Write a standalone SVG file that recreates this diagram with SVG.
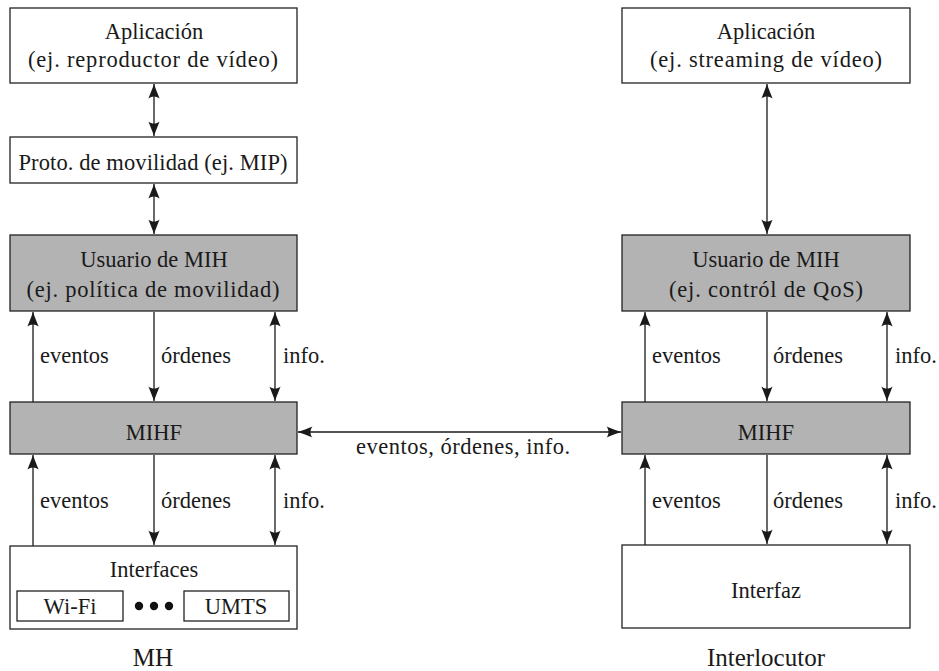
<svg xmlns="http://www.w3.org/2000/svg" width="939" height="671" viewBox="0 0 939 671">
<style>
.t{font-family:"Liberation Serif","Times New Roman",serif;font-size:22.5px;fill:#1a1a1a}
.c{text-anchor:middle}
.big{font-size:25px}
.box{fill:#fff;stroke:#222;stroke-width:1.3}
.gbox{fill:#b3b3b3;stroke:#222;stroke-width:1.3}
.ln{fill:none;stroke:#1a1a1a;stroke-width:1.3}
.dot{fill:#111}
</style>
<defs>
<path id="head" d="M0,0 C-4.5,-1.5 -9.5,-3.6 -14.5,-5.6 C-11.8,-2.2 -11.8,2.2 -14.5,5.6 C-9.5,3.6 -4.5,1.5 0,0 Z" fill="#1a1a1a"/>
</defs>

<g id="connectors">
<path class="ln" d="M154,84 V136"/>
<use href="#head" transform="translate(154,84) rotate(-90)"/>
<use href="#head" transform="translate(154,136) rotate(90)"/>
<path class="ln" d="M154,184 V234"/>
<use href="#head" transform="translate(154,184) rotate(-90)"/>
<use href="#head" transform="translate(154,234) rotate(90)"/>

<path class="ln" d="M33,402 V312"/>
<use href="#head" transform="translate(33,312) rotate(-90)"/>
<path class="ln" d="M154,312 V401"/>
<use href="#head" transform="translate(154,401) rotate(90)"/>
<path class="ln" d="M275,312 V401"/>
<use href="#head" transform="translate(275,312) rotate(-90)"/>
<use href="#head" transform="translate(275,401) rotate(90)"/>

<path class="ln" d="M33,546 V455"/>
<use href="#head" transform="translate(33,455) rotate(-90)"/>
<path class="ln" d="M154,455 V545"/>
<use href="#head" transform="translate(154,545) rotate(90)"/>
<path class="ln" d="M275,455 V545"/>
<use href="#head" transform="translate(275,455) rotate(-90)"/>
<use href="#head" transform="translate(275,545) rotate(90)"/>

<path class="ln" d="M767,84 V234"/>
<use href="#head" transform="translate(767,84) rotate(-90)"/>
<use href="#head" transform="translate(767,234) rotate(90)"/>

<path class="ln" d="M645,402 V312"/>
<use href="#head" transform="translate(645,312) rotate(-90)"/>
<path class="ln" d="M767,312 V401"/>
<use href="#head" transform="translate(767,401) rotate(90)"/>
<path class="ln" d="M887,312 V401"/>
<use href="#head" transform="translate(887,312) rotate(-90)"/>
<use href="#head" transform="translate(887,401) rotate(90)"/>

<path class="ln" d="M645,545 V455"/>
<use href="#head" transform="translate(645,455) rotate(-90)"/>
<path class="ln" d="M767,455 V544"/>
<use href="#head" transform="translate(767,544) rotate(90)"/>
<path class="ln" d="M887,455 V544"/>
<use href="#head" transform="translate(887,455) rotate(-90)"/>
<use href="#head" transform="translate(887,544) rotate(90)"/>

<path class="ln" d="M298,432 H621"/>
<use href="#head" transform="translate(298,432) rotate(180)"/>
<use href="#head" transform="translate(621,432)"/>

<text class="t" x="40" y="363">eventos</text>
<text class="t" x="161" y="363">órdenes</text>
<text class="t" x="283" y="363">info.</text>
<text class="t" x="40" y="508">eventos</text>
<text class="t" x="161" y="508">órdenes</text>
<text class="t" x="283" y="508">info.</text>
<text class="t" x="652" y="363">eventos</text>
<text class="t" x="773" y="363">órdenes</text>
<text class="t" x="895" y="363">info.</text>
<text class="t" x="652" y="508">eventos</text>
<text class="t" x="773" y="508">órdenes</text>
<text class="t" x="895" y="508">info.</text>
<text class="t c" x="463" y="454" textLength="214" lengthAdjust="spacing">eventos, órdenes, info.</text>
</g>

<g id="app-mh">
<rect class="box" x="10" y="8" width="287" height="75"/>
<text class="t c" x="154" y="39">Aplicación</text>
<text class="t c" x="153" y="67" textLength="250" lengthAdjust="spacing">(ej. reproductor de vídeo)</text>
</g>
<g id="proto-mh">
<rect class="box" x="10" y="137" width="287" height="46"/>
<text class="t c" x="153" y="170" textLength="269" lengthAdjust="spacing">Proto. de movilidad (ej. MIP)</text>
</g>
<g id="usuario-mh">
<rect class="gbox" x="10" y="235" width="287" height="76"/>
<text class="t c" x="154" y="267">Usuario de MIH</text>
<text class="t c" x="153" y="297" textLength="253" lengthAdjust="spacing">(ej. política de movilidad)</text>
</g>
<g id="mihf-mh">
<rect class="gbox" x="10" y="402" width="287" height="52"/>
<text class="t c" x="154" y="440">MIHF</text>
</g>
<g id="interfaces-mh">
<rect class="box" x="10" y="546" width="287" height="83"/>
<text class="t c" x="154" y="577">Interfaces</text>
<rect class="box" x="17" y="591" width="106" height="30"/>
<text class="t c" x="70" y="614">Wi-Fi</text>
<circle class="dot" cx="139" cy="606" r="4.2"/>
<circle class="dot" cx="154" cy="606" r="4.2"/>
<circle class="dot" cx="169" cy="606" r="4.2"/>
<rect class="box" x="184" y="591" width="105" height="30"/>
<text class="t c" x="236" y="614">UMTS</text>
</g>
<g id="label-mh">
<text class="t c big" x="153" y="666">MH</text>
</g>

<g id="app-int">
<rect class="box" x="622" y="8" width="288" height="75"/>
<text class="t c" x="766" y="39">Aplicación</text>
<text class="t c" x="766" y="67" textLength="232" lengthAdjust="spacing">(ej. streaming de vídeo)</text>
</g>
<g id="usuario-int">
<rect class="gbox" x="622" y="235" width="288" height="76"/>
<text class="t c" x="766" y="267">Usuario de MIH</text>
<text class="t c" x="766" y="297" textLength="194" lengthAdjust="spacing">(ej. contról de QoS)</text>
</g>
<g id="mihf-int">
<rect class="gbox" x="622" y="402" width="288" height="52"/>
<text class="t c" x="766" y="440">MIHF</text>
</g>
<g id="interfaz-int">
<rect class="box" x="622" y="545" width="288" height="83"/>
<text class="t c" x="766" y="598">Interfaz</text>
</g>
<g id="label-int">
<text class="t c big" x="766" y="666">Interlocutor</text>
</g>
</svg>
